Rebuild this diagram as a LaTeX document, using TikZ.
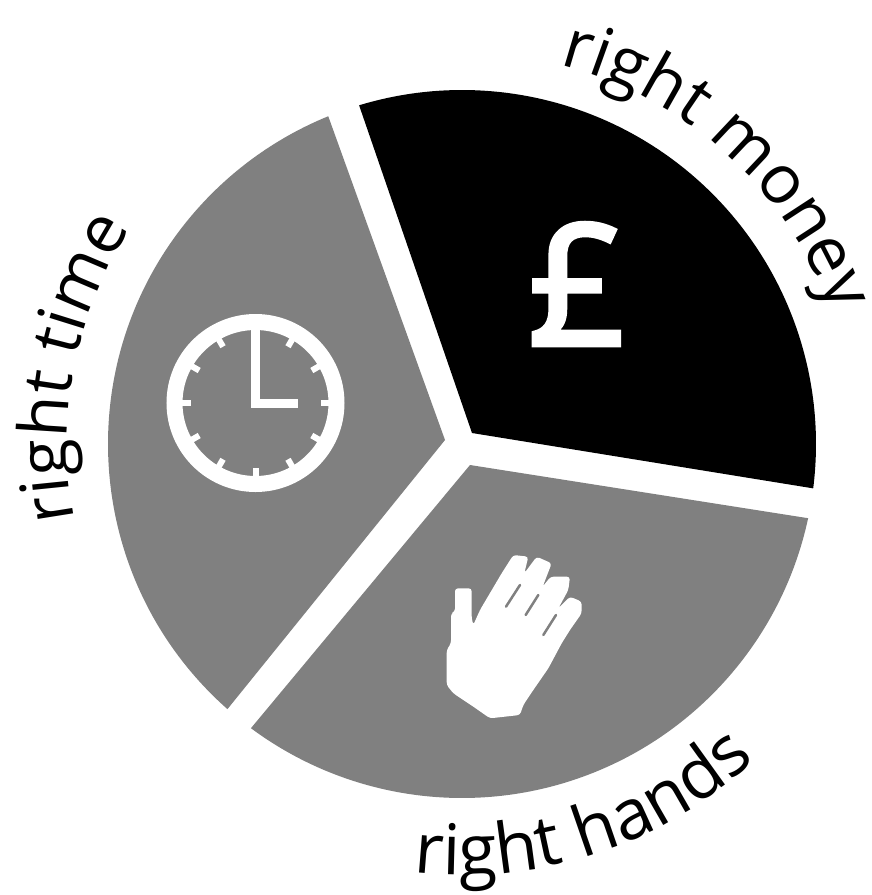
\documentclass[tikz,border=0pt]{standalone}
\usepackage{fontspec}
\setmainfont{Open Sans}
\newfontfamily\poundfont[FakeBold=3]{Open Sans}
\usetikzlibrary{decorations.text}
\definecolor{piegray}{HTML}{808080}
\newcommand{\moneyfont}{\fontsize{68pt}{70pt}\selectfont}
\newcommand{\timefont}{\fontsize{67pt}{70pt}\selectfont}
\newcommand{\handsfont}{\fontsize{70pt}{72pt}\selectfont}
\tikzset{
  sector/.style={fill=piegray,draw=none},
  curvedlabel/.style={decorate,decoration={text along path,text align=center,text={#1}}},
  slit/.style={draw=piegray,line width=2.5pt,line cap=round},
  ringline/.style={draw=white,line width=16pt},
  tick/.style={draw=white,line width=6pt},
}
\begin{document}
\begin{tikzpicture}[x=1pt,y=1pt]
\useasboundingbox (0,0) rectangle (872,-895);
\fill[white] (0,0) rectangle (872,-895);
\coordinate (c) at (462,-444);
% sectors
\fill[black] (c) ++(106.9:354) arc (106.9:-7.2:354) -- (472,-433) -- cycle;
\fill[sector] (c) ++(-12.1:354) arc (-12.1:-126.6:354) -- (470,-465) -- cycle;
\fill[sector] (c) ++(228.5:354) arc (228.5:112.2:354) -- (445,-440) -- cycle;
% curved labels
\path[curvedlabel={|\moneyfont|right money}] (c) ++(77:392) arc (77:18:392);
\path[curvedlabel={|\timefont|right time}] (c) ++(193:395) arc (193:145:395);
\path[curvedlabel={|\handsfont|right hands}] (c) ++(-95.5:431) arc (-95.5:-48:431);
% clock
\coordinate (clk) at (255.5,-403);
\draw[ringline] (clk) circle (81);
\foreach \a in {0,30,...,330} {
  \draw[tick] (clk) ++(\a:74) -- ++(\a:-9);
}
\draw[draw=white,line width=9pt,line join=miter] (255.5,-325) -- (255.5,-403.5) -- (298,-403.5);
% pound
\node[text=white,inner sep=0pt,font=\fontsize{168pt}{168pt}\selectfont\poundfont] (pound) at (577,-284) {£};
% hand
\begin{scope}[shift={(430pt,-540pt)},x=0.3333pt,y=-0.3333pt]
\fill[white,rounded corners=3pt] (75,145) -- (125,145) -- (125,235) -- (130,255) -- (150,210) -- (215,100) -- (250,45) -- (295,50) -- (283,100)
 -- (320,50) -- (365,70) -- (338,140) -- (362,110) -- (420,110) -- (415,150) -- (385,205) -- (420,170) -- (455,185) -- (455,220)
 -- (420,270) -- (395,310) -- (355,385) -- (310,450) -- (280,495) -- (270,525) -- (180,535) -- (130,500) -- (70,460)
 -- (50,435) -- (50,330) -- (63,310) -- (63,220) -- (75,215) -- cycle;
\draw[slit] (270,135) -- (228,200);
\draw[slit] (325,165) -- (287,225);
\draw[slit] (378,225) -- (340,285);
\end{scope}
\end{tikzpicture}
\end{document}
